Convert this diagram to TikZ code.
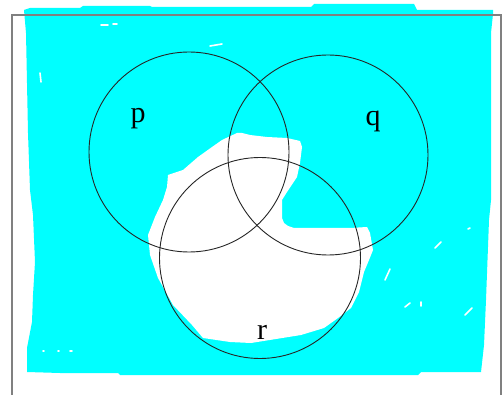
\documentclass[tikz,border=0pt]{standalone}
\usepackage{fontspec}
\setmainfont{Liberation Serif}
\definecolor{paint}{HTML}{00FFFF}
\definecolor{frame}{HTML}{808080}
\begin{document}
\begin{tikzpicture}[x=1pt,y=-1pt,
  setcircle/.style={draw=black!85,line width=0.9pt},
  lbl/.style={font=\fontsize{30}{30}\selectfont,inner sep=0pt},
  speck/.style={draw=white,line width=1.6pt,line cap=round}]
\useasboundingbox (0,0) rectangle (503,395);
% cyan paint
\fill[paint] (24,10) -- (30,8) -- (80,8) -- (83,6) -- (150,6) -- (152,7) -- (311,7) -- (314,4) -- (414,4) -- (417,10) -- (493,10) -- (493,14) -- (491,33) -- (491,200) -- (489,220) -- (486,300) -- (484,345) -- (481,372) -- (421,372) -- (418,375) -- (120,375) -- (118,373) -- (60,373) -- (27,372) -- (27,348) -- (32,322) -- (33,295) -- (35,262) -- (33,215) -- (30,190) -- (28,133) -- (26,33) -- cycle;
% white region
\fill[white] (155,217) -- (163,200) -- (167,187) -- (168,175) -- (183,170) -- (198,157) -- (212,147) -- (222,140) -- (237,133) -- (242,133) -- (250,135) -- (267,137) -- (287,138) -- (300,141) -- (302,147) -- (300,163) -- (297,177) -- (287,192) -- (282,200) -- (282,218) -- (284,223) -- (288,226) -- (294,228) -- (350,228) -- (367,227) -- (370,233) -- (373,250) -- (369,260) -- (364,272) -- (359,292) -- (351,308) -- (338,318) -- (324,328) -- (301,335) -- (251,343) -- (230,342) -- (203,338) -- (192,325) -- (173,305) -- (158,278) -- (150,255) -- (148,235) -- cycle;
% specks
\draw[speck] (101,25) -- (108,25);
\draw[speck] (113,24) -- (117,24);
\draw[speck] (210,46) -- (222,44);
\draw[speck] (40,73) -- (41,82);
\draw[speck] (43,351) -- (44,351);
\draw[speck] (58,351) -- (59,351);
\draw[speck] (70,351) -- (72,351);
\draw[speck] (435,248) -- (441,242);
\draw[speck] (385,280) -- (390,269);
\draw[speck] (405,307) -- (410,303);
\draw[speck] (421,302) -- (421,306);
\draw[speck] (465,315) -- (472,308);
\draw[speck] (468,229) -- (470,228);
% frame
\coordinate (fTL) at (12,15);
\coordinate (fTR) at (501,15);
\coordinate (fBL) at (12,396);
\coordinate (fBR) at (501,396);
\draw[frame,line width=1.3pt] (fBL) -- (fTL) -- (fTR) -- (fBR);
% circles
\node[setcircle,circle,minimum size=200pt,inner sep=0pt] (cp) at (189,152) {};
\node[setcircle,circle,minimum size=200pt,inner sep=0pt] (cq) at (328,155) {};
\node[setcircle,circle,minimum size=201pt,inner sep=0pt] (cr) at (260,258) {};
% labels
\node[lbl] (lp) at (138,119) {p};
\node[lbl] (lq) at (373,121) {q};
\node[lbl] (lr) at (262,332) {r};
\end{tikzpicture}
\end{document}
